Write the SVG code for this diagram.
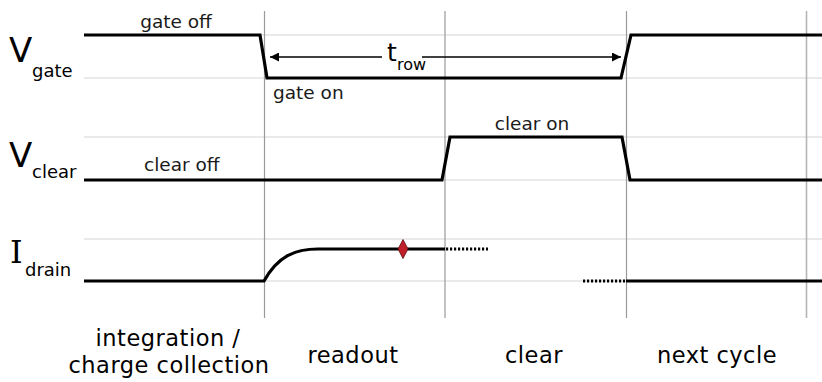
<svg xmlns="http://www.w3.org/2000/svg" width="822" height="382" viewBox="0 0 822 382">
  <style>
    .grid { stroke: #d4d4d4; stroke-width: 1; fill: none; }
    .phase { stroke: #9a9a9a; stroke-width: 1.2; fill: none; }
    .sig { stroke: #000; stroke-width: 3.2; fill: none; stroke-linejoin: miter; }
    .dots { stroke: #000; stroke-width: 3; fill: none; stroke-dasharray: 2.2 1.8; }
    .lbl { font-family: "DejaVu Sans", Verdana, sans-serif; font-size: 18.5px; fill: #1a1a1a; }
    .big { font-family: "DejaVu Sans", Verdana, sans-serif; font-size: 34px; fill: #000; }
    .sub { font-family: "DejaVu Sans", Verdana, sans-serif; font-size: 18px; fill: #000; }
    .phaseLbl { font-family: "DejaVu Sans", Verdana, sans-serif; font-size: 22.5px; letter-spacing: 0.5px; fill: #000; text-anchor: middle; }
  </style>
  <defs>
    <marker id="head" viewBox="0 0 10 10" refX="10" refY="5" markerWidth="9" markerHeight="9" markerUnits="userSpaceOnUse" orient="auto-start-reverse">
      <path d="M0,0 L10,5 L0,10 z" fill="#000"/>
    </marker>
  </defs>

  <rect width="822" height="382" fill="#fff"/>

  <!-- level reference lines -->
  <g id="grid">
    <line class="grid" x1="84" y1="35" x2="822" y2="35"/>
    <line class="grid" x1="84" y1="78" x2="822" y2="78"/>
    <line class="grid" x1="84" y1="137" x2="822" y2="137"/>
    <line class="grid" x1="84" y1="180" x2="822" y2="180"/>
    <line class="grid" x1="84" y1="239" x2="822" y2="239"/>
    <line class="grid" x1="84" y1="281" x2="822" y2="281"/>
  </g>

  <!-- phase boundaries -->
  <g id="phases">
    <line class="phase" x1="264.5" y1="11" x2="264.5" y2="318"/>
    <line class="phase" x1="445" y1="11" x2="445" y2="318"/>
    <line class="phase" x1="626.5" y1="11" x2="626.5" y2="318"/>
    <line class="phase" x1="806.5" y1="11" x2="806.5" y2="318" style="stroke:#b5b5b5;stroke-width:1.6"/>
  </g>

  <!-- gate voltage -->
  <g id="v-gate">
    <text class="big" x="9" y="62">V</text>
    <text class="sub" x="32" y="77">gate</text>
    <path class="sig" d="M84,35 H260 L267,78 H621 L631,35 H822"/>
    <text class="lbl" x="176" y="28" text-anchor="middle">gate off</text>
    <text class="lbl" x="273" y="99">gate on</text>
  </g>

  <!-- row time span -->
  <g id="t-row">
    <line x1="270" y1="57" x2="382" y2="57" stroke="#000" stroke-width="1.5" marker-start="url(#head)"/>
    <line x1="422" y1="57" x2="621" y2="57" stroke="#000" stroke-width="1.5" marker-end="url(#head)"/>
    <text class="big" x="387" y="61" style="font-size:25px">t</text>
    <text class="sub" x="397" y="70" style="font-size:16px">row</text>
  </g>

  <!-- clear voltage -->
  <g id="v-clear">
    <text class="big" x="9" y="167">V</text>
    <text class="sub" x="32" y="178">clear</text>
    <path class="sig" d="M84,180 H442 L450,137 H622 L630,180 H822"/>
    <text class="lbl" x="144" y="171">clear off</text>
    <text class="lbl" x="532" y="130" text-anchor="middle">clear on</text>
  </g>

  <!-- drain current -->
  <g id="i-drain">
    <text class="big" x="10" y="263" style="font-family:'DejaVu Serif',serif;font-size:32px">I</text>
    <text class="sub" x="25" y="276">drain</text>
    <path class="sig" d="M84,281 H264 C278,256 295,249 318,249 H445"/>
    <line class="dots" x1="446" y1="249" x2="488" y2="249"/>
    <line class="dots" x1="583" y1="281" x2="625" y2="281"/>
    <path class="sig" d="M626,281 H822"/>
    <path d="M403,239.5 L408,249 L403,258.5 L398,249 z" fill="#c0202a" stroke="#5a1010" stroke-width="0.8"/>
  </g>

  <!-- phase names -->
  <g id="labels">
    <text class="phaseLbl" x="168" y="346">integration /</text>
    <text class="phaseLbl" x="169" y="373">charge collection</text>
    <text class="phaseLbl" x="353" y="363">readout</text>
    <text class="phaseLbl" x="534" y="363">clear</text>
    <text class="phaseLbl" x="717" y="363">next cycle</text>
  </g>
</svg>
